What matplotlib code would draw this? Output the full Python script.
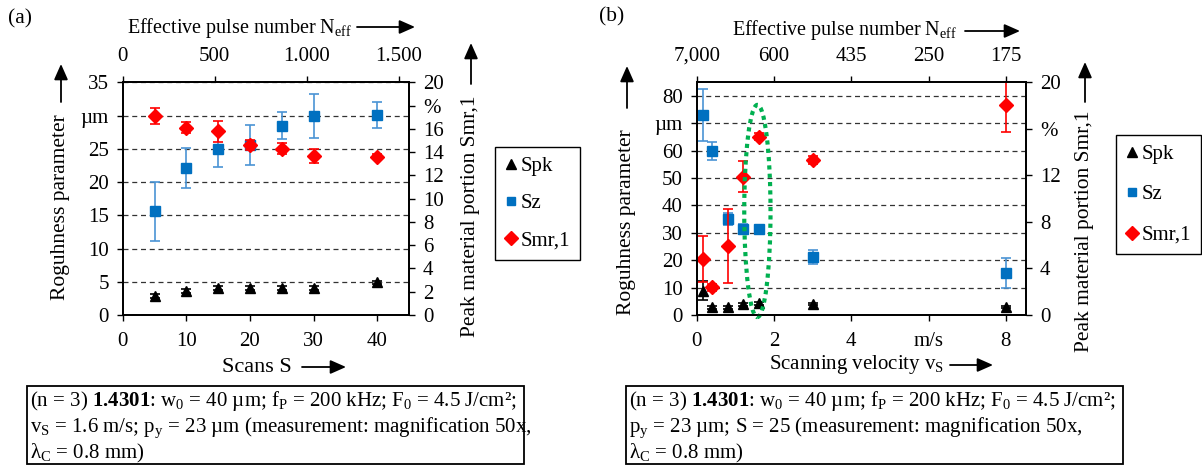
import matplotlib
matplotlib.use('Agg')
import matplotlib.pyplot as plt
from matplotlib.lines import Line2D
from matplotlib.patches import Ellipse, Rectangle, FancyArrowPatch
import numpy as np

# ---------------- data (a): scans ----------------
scans = [5, 10, 15, 20, 25, 30, 40]
a_spk = [2.8, 3.6, 4.1, 4.0, 4.1, 4.0, 4.9]
a_spk_err = [0.3, 0.3, 0.3, 0.3, 0.3, 0.3, 0.2]
a_sz = [15.6, 22.1, 25.0, 25.6, 28.5, 29.9, 30.1]
a_sz_err = [4.4, 3.0, 2.8, 3.0, 2.1, 3.3, 2.0]
a_smr = [17.1, 16.1, 15.8, 14.6, 14.3, 13.7, 13.6]
a_smr_err = [0.7, 0.5, 0.9, 0.4, 0.45, 0.6, 0.2]
a_top_ticks = [0, 500, 1000, 1500]
a_top_labels = ['0', '500', '1.000', '1.500']
a_left_ticks = [0, 5, 10, 15, 20, 25, 30, 35]
a_left_labels = ['0', '5', '10', '15', '20', '25', 'µm', '35']
a_right_ticks = [0, 2, 4, 6, 8, 10, 12, 14, 16, 18, 20]
a_right_labels = ['0', '2', '4', '6', '8', '10', '12', '14', '16', '%', '20']
a_bottom_ticks = [0, 10, 20, 30, 40]

# ---------------- data (b): scanning velocity ----------------
vs = [0.16, 0.4, 0.8, 1.2, 1.6, 3.0, 8.0]
b_spk = [8.9, 2.8, 2.8, 3.9, 4.3, 3.9, 2.8]
b_spk_err = [3.5, 0.5, 0.5, 0.5, 0.6, 0.4, 0.4]
b_sz = [73.1, 59.9, 35.1, 31.5, 31.4, 21.3, 15.4]
b_sz_err = [9.5, 3.4, 2.2, 1.8, 0.5, 2.5, 5.6]
b_smr = [4.8, 2.4, 5.95, 11.9, 15.3, 13.3, 18.05]
b_smr_err = [2.0, 0.3, 3.2, 1.3, 0.3, 0.35, 2.3]
b_bottom_ticks = [0, 2, 4, 6, 8]
b_bottom_labels = ['0', '2', '4', 'm/s', '8']
b_top_labels = ['7,000', '600', '435', '250', '175']
b_left_ticks = [0, 10, 20, 30, 40, 50, 60, 70, 80]
b_left_labels = ['0', '10', '20', '30', '40', '50', '60', 'µm', '80']
b_right_ticks = [0, 4, 8, 12, 16, 20]
b_right_labels = ['0', '4', '8', '12', '%', '20']

caption_a = ["(n = 3) $\\mathbf{1.4301}$: w$_0$ = 40 µm; f$_\\mathrm{P}$ = 200 kHz; F$_0$ = 4.5 J/cm²;",
             "v$_\\mathrm{S}$ = 1.6 m/s; p$_\\mathrm{y}$ = 23 µm (measurement: magnification 50x,",
             "λ$_\\mathrm{C}$ = 0.8 mm)"]
caption_b = ["(n = 3) $\\mathbf{1.4301}$: w$_0$ = 40 µm; f$_\\mathrm{P}$ = 200 kHz; F$_0$ = 4.5 J/cm²;",
             "p$_\\mathrm{y}$ = 23 µm; S = 25 (measurement: magnification 50x,",
             "λ$_\\mathrm{C}$ = 0.8 mm)"]

# ---------------- style ----------------
plt.rcParams['font.family'] = ['Liberation Serif', 'DejaVu Serif']
plt.rcParams['mathtext.fontset'] = 'custom'
plt.rcParams['mathtext.rm'] = 'Liberation Serif'
plt.rcParams['mathtext.it'] = 'Liberation Serif:italic'
plt.rcParams['mathtext.bf'] = 'Liberation Serif:bold'
plt.rcParams['font.size'] = 15

W, H = 1202, 466
fig = plt.figure(figsize=(W / 100, H / 100), dpi=100)

BLUE = '#0070C0'
BLUE_E = '#4A94D4'
RED = '#FF0000'
GREEN = '#00B050'
FS_TICK = 15
FS_LAB = 15.5


def fx(x):
    return x / W


def fy(y):
    return 1 - y / H


def arrow(x0, y0, x1, y1):
    fig.add_artist(FancyArrowPatch((fx(x0), fy(y0)), (fx(x1), fy(y1)),
                                   transform=fig.transFigure,
                                   arrowstyle='-|>,head_length=0.95,head_width=0.42',
                                   mutation_scale=10, color='k', lw=1.3,
                                   shrinkA=0, shrinkB=0))


def style_axes(ax):
    for s in ax.spines.values():
        s.set_linewidth(1.1)
        s.set_color('k')
    ax.tick_params(direction='out', length=4, width=1, labelsize=FS_TICK)
    ax.tick_params(axis='x', pad=8)
    ax.tick_params(axis='y', pad=6)


def make_panel(rect, xlim, ylim, rlim):
    ax = fig.add_axes(rect)
    ax.set_xlim(*xlim)
    ax.set_ylim(*ylim)
    axr = ax.twinx()
    axr.set_ylim(*rlim)
    axt = ax.twiny()
    for a in (ax, axr, axt):
        style_axes(a)
    ax.yaxis.grid(True, linestyle=(0, (4, 3)), color='#333333', lw=0.9)
    ax.set_axisbelow(True)
    return ax, axr, axt


ek = dict(capsize=3.5, elinewidth=1.2, capthick=1.2, linestyle='none')

# ---------------- panel (a) ----------------
axA, axAr, axAt = make_panel([fx(122.7), fy(315), fx(409 - 122.7), (315 - 82.3) / H],
                             (0, 45), (0, 35), (0, 20))
axA.set_xticks(a_bottom_ticks)
axA.set_yticks(a_left_ticks)
axA.set_yticklabels(a_left_labels)
axAr.set_yticks(a_right_ticks)
axAr.set_yticklabels(a_right_labels)
axAt.set_xlim(0, 45 * 34.6)
axAt.set_xticks(a_top_ticks)
axAt.set_xticklabels(a_top_labels)

axA.errorbar(scans, a_spk, yerr=a_spk_err, marker='^', ms=7, color='k', ecolor='k', **ek)
axA.errorbar(scans, a_sz, yerr=a_sz_err, marker='s', ms=6.5, color=BLUE, ecolor=BLUE_E, **ek)
axAr.errorbar(scans, a_smr, yerr=a_smr_err, marker='D', ms=7, color=RED, ecolor=RED, **ek)

# ---------------- panel (b) ----------------
axB, axBr, axBt = make_panel([fx(696.7), fy(315), fx(1026 - 696.7), (315 - 82.3) / H],
                             (0, 8.52), (0, 85), (0, 20))
axB.set_xticks(b_bottom_ticks)
axB.set_xticklabels(b_bottom_labels)
axB.set_yticks(b_left_ticks)
axB.set_yticklabels(b_left_labels)
axBr.set_yticks(b_right_ticks)
axBr.set_yticklabels(b_right_labels)
axBt.set_xlim(0, 8.52)
axBt.set_xticks(b_bottom_ticks)
axBt.set_xticklabels(b_top_labels)

axB.errorbar(vs, b_spk, yerr=b_spk_err, marker='^', ms=7, color='k', ecolor='k', **ek)
axB.errorbar(vs, b_sz, yerr=b_sz_err, marker='s', ms=6.5, color=BLUE, ecolor=BLUE_E, **ek)
axBr.errorbar(vs, b_smr, yerr=b_smr_err, marker='D', ms=7, color=RED, ecolor=RED, **ek)

ell = Ellipse((1.57, 38), 0.68, 77.5, angle=0, fill=False, edgecolor=GREEN,
              lw=3.0, linestyle=(0, (1, 1)), clip_on=False, zorder=5)
axBr.add_patch(ell)
ell.set_transform(axB.transData)

# ---------------- legends ----------------
handles = [Line2D([], [], marker='^', color='k', ls='none', ms=7),
           Line2D([], [], marker='s', color=BLUE, ls='none', ms=6),
           Line2D([], [], marker='D', color=RED, ls='none', ms=7)]
labels = ['Spk', 'Sz', 'Smr,1']
for (lx, ly, lsp) in [(495, 147, 0.85), (1116, 135, 1.0)]:
    leg = fig.legend(handles, labels, loc='upper left', bbox_to_anchor=(fx(lx), fy(ly)),
                     frameon=True, fancybox=False, edgecolor='k', framealpha=1,
                     handlelength=0.6, handletextpad=0.2, labelspacing=lsp,
                     borderpad=0.45, borderaxespad=0, fontsize=FS_TICK)
    leg.get_frame().set_linewidth(1.0)

# ---------------- labels & arrows ----------------
fig.text(fx(20), fy(19), '(a)', ha='center', va='center', fontsize=FS_LAB)
fig.text(fx(612), fy(17), '(b)', ha='center', va='center', fontsize=FS_LAB)

# top labels
fig.text(fx(127), fy(28), 'Effective pulse number N$_\\mathrm{eff}$', ha='left', va='center', fontsize=14.5)
arrow(357, 27, 415, 27)
fig.text(fx(732), fy(30), 'Effective pulse number N$_\\mathrm{eff}$', ha='left', va='center', fontsize=14.5)
arrow(965, 31, 1020, 31)

# bottom labels
fig.text(fx(222), fy(367), 'Scans S', ha='left', va='center', fontsize=16)
arrow(302, 367, 346, 367)
fig.text(fx(769), fy(365), 'Scanning velocity v$_\\mathrm{S}$', ha='left', va='center', fontsize=15)
arrow(950, 365, 993, 365)

# left labels
fig.text(fx(61), fy(300), 'Roguhness parameter', rotation=90, ha='center', va='bottom', fontsize=FS_LAB)
arrow(61, 102, 61, 64)
fig.text(fx(627), fy(315), 'Roguhness parameter', rotation=90, ha='center', va='bottom', fontsize=FS_LAB)
arrow(627, 108, 627, 66)

# right labels
fig.text(fx(471), fy(337), 'Peak material portion Smr,1', rotation=90, ha='center', va='bottom', fontsize=FS_LAB)
arrow(471, 84, 471, 43)
fig.text(fx(1085), fy(352), 'Peak material portion Smr,1', rotation=90, ha='center', va='bottom', fontsize=FS_LAB)
arrow(1085, 102, 1085, 62)

# ---------------- caption boxes ----------------
for (bx0, bx1, lines) in [(27, 524, caption_a), (626, 1123, caption_b)]:
    fig.add_artist(Rectangle((fx(bx0), fy(464)), fx(bx1 - bx0), (464 - 386) / H,
                             transform=fig.transFigure, fill=False, edgecolor='k', lw=1.3))
    fig.text(fx(bx0 + 3), fy(427), "\n".join(lines), ha='left', va='center',
             fontsize=15, linespacing=1.12)

fig.savefig('out.png', dpi=100)
